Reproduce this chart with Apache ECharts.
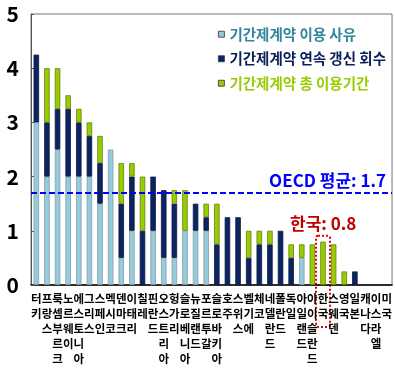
<!DOCTYPE html>
<html>
<head>
<meta charset="utf-8">
<script src="https://cdn.jsdelivr.net/npm/echarts@6/dist/echarts.min.js"></script>
<style>
  html, body { margin: 0; padding: 0; background: #fff; }
  #chart { width: 395px; height: 369px; }
</style>
</head>
<body>
<div id="chart"></div>
<script>
// OECD employment protection for temporary contracts, by sub-indicator
const countries = ['터키','프랑스','룩셈부르크','노르웨이','에스토니아','그리스','스페인','멕시코','덴마크','이태리',
  '칠레','핀란드','오스트리아','헝가리','슬로베니아','뉴질랜드','포르투갈','슬로바키아','호주','스위스',
  '벨기에','체코','네델란드','폴란드','독일','아일랜드','아이슬란드','한국','스웨덴','영국','일본','캐나다','이스라엘','미국'];

// 기간제계약 이용 사유
const reasonValues = [3, 2, 2.5, 2, 2, 2, 1.5, 2.5, 0.5, 1,
  0, 1, 0.5, 0.5, 1, 1, 1, 0, 0, 0,
  0, 0, 0, 0, 0, 0.5, 0, 0, 0, 0, 0, 0, 0, 0];
// 기간제계약 연속 갱신 회수
const renewalValues = [1.25, 1, 0.75, 1.25, 1, 0.75, 0.75, 0, 1, 1,
  1, 1, 1.25, 1, 0, 0.5, 0.25, 0.75, 1.25, 1.25,
  0.5, 0.75, 0.75, 1, 0.5, 0, 0, 0, 0, 0, 0.25, 0, 0, 0];
// 기간제계약 총 이용기간
const durationValues = [0, 1, 0.75, 0.25, 0.25, 0.25, 0.5, 0, 0.75, 0.25,
  1, 0, 0, 0.25, 0.75, 0, 0.25, 0.75, 0, 0,
  0.5, 0.25, 0.25, 0, 0.25, 0.25, 0.75, 0.8, 0.75, 0.25, 0, 0, 0, 0];

const seriesNames = ['기간제계약 이용 사유', '기간제계약 연속 갱신 회수', '기간제계약 총 이용기간'];
const yTicks = [0, 1, 2, 3, 4, 5];
const oecdAverage = 1.7;
const koreaName = '한국';

const narrow = "'Liberation Sans Narrow', 'Arial Narrow', 'Noto Sans CJK KR', sans-serif";
const kr = "'Noto Sans CJK KR', sans-serif";

const colors = ['#93cddd', '#0c2461', '#99cc00'];
const borders = ['#8a9aa2', '#0a1a45', '#667f10'];
const legendText = ['#31859c', '#0c1f5c', '#99cc00'];

const chart = echarts.init(document.getElementById('chart'), null, { renderer: 'canvas' });

function barSeries(i, data) {
  return {
    name: seriesNames[i],
    type: 'bar',
    stack: 'total',
    barWidth: 5.5,
    // empty segments are skipped so no outline is drawn for them
    data: data.map(v => (v === 0 ? '-' : v)),
    itemStyle: { color: colors[i], borderColor: borders[i], borderWidth: 0.8 },
    emphasis: { disabled: true }
  };
}

const s0 = barSeries(0, reasonValues);
s0.markLine = {
  silent: true,
  symbol: 'none',
  lineStyle: { color: '#0000ff', type: [6, 3], width: 2 },
  label: {
    show: true,
    position: 'insideEndTop',
    distance: [6, 4],
    formatter: 'OECD 평균: ' + oecdAverage,
    color: '#0000ff',
    fontWeight: 'bold',
    fontSize: 17,
    fontFamily: narrow
  },
  data: [{ yAxis: oecdAverage }]
};

chart.setOption({
  animation: false,
  grid: { left: 31, right: 2, top: 14, bottom: 84, show: true, borderColor: '#777', borderWidth: 1 },
  legend: {
    orient: 'vertical',
    left: 213,
    top: 22,
    itemGap: 10,
    itemWidth: 6,
    itemHeight: 6,
    icon: 'rect',
    selectedMode: false,
    textStyle: { fontFamily: kr, fontWeight: 'bold', fontSize: 14.5 },
    data: seriesNames.map((n, i) => ({
      name: n,
      itemStyle: { color: colors[i], borderColor: '#333', borderWidth: 0.8 },
      textStyle: { color: legendText[i] }
    }))
  },
  xAxis: {
    type: 'category',
    data: countries,
    axisTick: { show: false },
    axisLine: { lineStyle: { color: '#000', width: 1.5 } },
    axisLabel: {
      interval: 0,
      margin: 6,
      color: '#000',
      fontFamily: kr,
      fontWeight: 'bold',
      fontSize: 11.5,
      lineHeight: 15,
      verticalAlign: 'top',
      formatter: v => v.split('').join('\n')
    }
  },
  yAxis: {
    type: 'value',
    min: yTicks[0],
    max: yTicks[yTicks.length - 1],
    interval: 1,
    splitLine: { show: false },
    axisLine: { show: true, lineStyle: { color: '#555', width: 1 } },
    axisTick: { show: true, inside: true, length: 3, lineStyle: { color: '#555' } },
    axisLabel: { color: '#000', fontFamily: narrow, fontWeight: 'bold', fontSize: 21, margin: 12 }
  },
  series: [s0, barSeries(1, renewalValues), barSeries(2, durationValues)]
});

// Korea callout: value label and dotted frame around its bar and axis name
const ki = countries.indexOf(koreaName);
const koreaTotal = reasonValues[ki] + renewalValues[ki] + durationValues[ki];
const basePt = chart.convertToPixel({ gridIndex: 0 }, [ki, 0]);
const topPt = chart.convertToPixel({ gridIndex: 0 }, [ki, koreaTotal]);
chart.setOption({
  graphic: [
    {
      type: 'text',
      left: basePt[0] - 33,
      top: topPt[1] - 27,
      style: {
        text: koreaName + ': ' + koreaTotal,
        fill: '#c00000',
        font: 'bold 17px ' + narrow
      }
    },
    {
      type: 'rect',
      shape: { x: basePt[0] - 7, y: topPt[1] - 6, width: 14, height: basePt[1] + 42 - (topPt[1] - 6), r: 2 },
      style: { fill: 'none', stroke: '#e00000', lineWidth: 2, lineDash: [2, 2] }
    }
  ]
});
</script>
</body>
</html>
